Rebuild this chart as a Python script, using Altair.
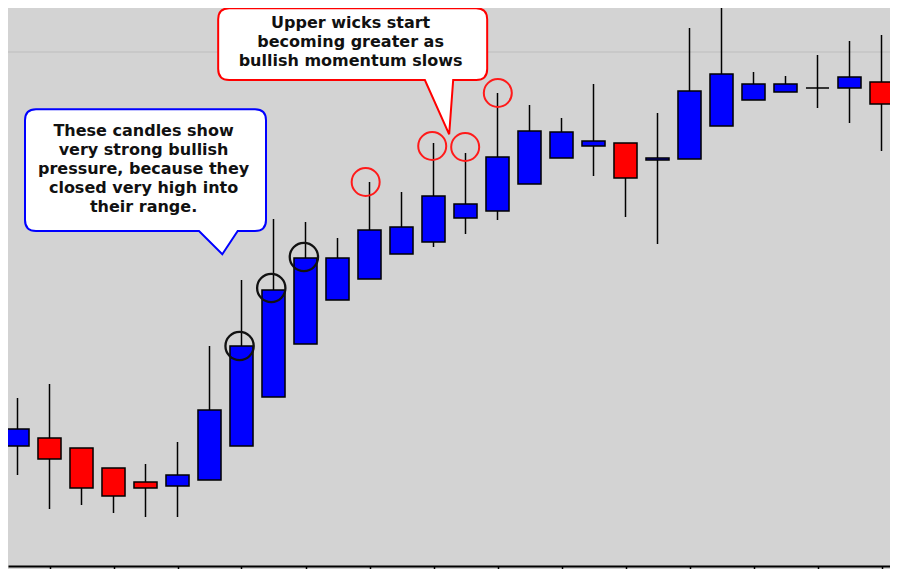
import altair as alt
import pandas as pd

# ---------------- data ----------------
candle_index = list(range(28))
open_px = [1.2620, 1.2628, 1.2618, 1.2598, 1.2584, 1.2580, 1.2586, 1.2620, 1.2669, 1.2722,
           1.2766, 1.2787, 1.2812, 1.2824, 1.2848, 1.2855, 1.2882, 1.2908, 1.2920, 1.2923,
           1.2906, 1.2907, 1.2940, 1.2966, 1.2974, 1.2978, 1.2978, 1.2984]
high_px = [1.2668, 1.2682, 1.2618, 1.2598, 1.2602, 1.2624, 1.2720, 1.2786, 1.2847, 1.2844,
           1.2828, 1.2884, 1.2874, 1.2923, 1.2913, 1.2973, 1.2961, 1.2948, 1.2982, 1.2923,
           1.2953, 1.3038, 1.3059, 1.2994, 1.2990, 1.3011, 1.3025, 1.3031]
low_px = [1.2591, 1.2557, 1.2561, 1.2553, 1.2549, 1.2549, 1.2586, 1.2620, 1.2669, 1.2722,
          1.2766, 1.2787, 1.2812, 1.2819, 1.2832, 1.2846, 1.2882, 1.2908, 1.2890, 1.2849,
          1.2822, 1.2907, 1.2940, 1.2966, 1.2974, 1.2958, 1.2943, 1.2915]
close_px = [1.2637, 1.2607, 1.2578, 1.2570, 1.2578, 1.2591, 1.2656, 1.2720, 1.2776, 1.2808,
            1.2808, 1.2836, 1.2839, 1.2870, 1.2862, 1.2909, 1.2935, 1.2934, 1.2925, 1.2888,
            1.2908, 1.2975, 1.2992, 1.2982, 1.2982, 1.2978, 1.2989, 1.2962]

tick_positions = list(range(1, 28, 2))
resistance_level = [1.3014]

# highlighted candle tops (black) and upper wicks (red)
black_circle_x = [6.94, 7.93, 8.95]
black_circle_y = [1.2720, 1.2778, 1.2809]
red_circle_x = [10.88, 12.96, 13.99, 15.01]
red_circle_y = [1.2884, 1.2920, 1.2919, 1.2973]

# callouts: pointer tip location (data coords), first text line (data coords)
callout_tip_x = [6.40, 13.49]
callout_tip_y = [1.28117, 1.29317]
callout_text_x = [3.94, 10.41]
callout_text_y = [1.29353, 1.30427]
callout_text = [
    ["These candles show", "very strong bullish", "pressure, because they",
     "closed very high into", "their range."],
    ["Upper wicks start", "becoming greater as", "bullish momentum slows"],
]

# ---------------- helpers ----------------
S = 100.0  # symbol scale (px per path unit)


def callout_shape(box, tip, base, r):
    L, T, R, B = box
    tx, ty = tip
    b0, b1 = base

    def p(x, y):
        return f"{(x - tx) / S:.4f} {(y - ty) / S:.4f}"

    return ("M " + p(L + r, T) + " L " + p(R - r, T) +
            " Q " + p(R, T) + " " + p(R, T + r) +
            " L " + p(R, B - r) +
            " Q " + p(R, B) + " " + p(R - r, B) +
            " L " + p(b1, B) + " L " + p(tx, ty) + " L " + p(b0, B) +
            " L " + p(L + r, B) +
            " Q " + p(L, B) + " " + p(L, B - r) +
            " L " + p(L, T + r) +
            " Q " + p(L, T) + " " + p(L + r, T) + " Z")


blue_shape = callout_shape((25, 109.3, 266, 231), (222.3, 254.3), (199, 237.7), 11)
red_shape = callout_shape((218.3, 8.3, 487.3, 80), (449.3, 134.3), (425, 453.3), 11)

# ---------------- chart ----------------
df = pd.DataFrame({"i": candle_index, "open": open_px, "high": high_px,
                   "low": low_px, "close": close_px})

W = 882
xscale = alt.Scale(domain=[-9.5 / 32, (W - 9.5) / 32], nice=False, zero=False)
yscale = alt.Scale(domain=[1.2500, 1.3058], nice=False, zero=False)
xaxis = alt.Axis(values=tick_positions, labels=False, ticks=True, tickSize=5,
                 tickWidth=1.5, tickColor="black", domainColor="black",
                 domainWidth=2, grid=False, title=None)

base = alt.Chart(df).transform_calculate(
    dir="datum.close >= datum.open ? 'up' : 'down'",
    x0="datum.i - 0.36",
    x1="datum.i + 0.36",
)

level = alt.Chart(pd.DataFrame({"level": resistance_level})).mark_rule(
    color="#bdbdbd", strokeWidth=1
).encode(y=alt.Y("level:Q", scale=yscale, axis=None))

wicks = base.mark_rule(color="black", strokeWidth=1.5).encode(
    x=alt.X("i:Q", scale=xscale, axis=xaxis),
    y=alt.Y("low:Q", scale=yscale, axis=None),
    y2="high:Q",
)

bodies = base.mark_rect(stroke="black", strokeWidth=1.5).encode(
    x=alt.X("x0:Q", scale=xscale, axis=xaxis),
    x2="x1:Q",
    y=alt.Y("open:Q", scale=yscale, axis=None),
    y2="close:Q",
    color=alt.Color("dir:N", scale=alt.Scale(domain=["up", "down"],
                                             range=["#0000ff", "#ff0000"]),
                    legend=None),
)

black_circles = alt.Chart(pd.DataFrame({"x": black_circle_x, "y": black_circle_y})).mark_point(
    shape="circle", size=800, filled=False, color="#111111", strokeWidth=2.3, opacity=1
).encode(x=alt.X("x:Q", scale=xscale, axis=xaxis), y=alt.Y("y:Q", scale=yscale, axis=None))

red_circles = alt.Chart(pd.DataFrame({"x": red_circle_x, "y": red_circle_y})).mark_point(
    shape="circle", size=784, filled=False, color="#ff1a1a", strokeWidth=2, opacity=1
).encode(x=alt.X("x:Q", scale=xscale, axis=xaxis), y=alt.Y("y:Q", scale=yscale, axis=None))


def callout(k, shape, color):
    bubble = alt.Chart(pd.DataFrame({"x": [callout_tip_x[k]], "y": [callout_tip_y[k]]})).mark_point(
        shape=shape, size=(2 * S) ** 2, filled=True, fill="white", stroke=color,
        strokeWidth=2, opacity=1
    ).encode(x=alt.X("x:Q", scale=xscale, axis=xaxis), y=alt.Y("y:Q", scale=yscale, axis=None))
    label = alt.Chart(pd.DataFrame({"x": [callout_text_x[k]], "y": [callout_text_y[k]],
                                    "t": [callout_text[k]]})).mark_text(
        font="DejaVu Sans", fontWeight="bold", fontSize=16, lineHeight=19, color="#111111",
        align="center", baseline="middle"
    ).encode(x=alt.X("x:Q", scale=xscale, axis=xaxis), y=alt.Y("y:Q", scale=yscale, axis=None),
             text="t")
    return bubble + label


chart = alt.layer(
    level, wicks, bodies, black_circles, red_circles,
    callout(0, blue_shape, "#0000ff"), callout(1, red_shape, "#ff0000"),
).properties(
    width=W, height=558,
    autosize=alt.AutoSizeParams(type="none"),
    padding={"left": 0, "top": 0, "right": 0, "bottom": 3},
    background="#d3d3d3",
).configure_view(stroke=None)

chart.save("out.html", embed_options={"renderer": "svg", "actions": False})
